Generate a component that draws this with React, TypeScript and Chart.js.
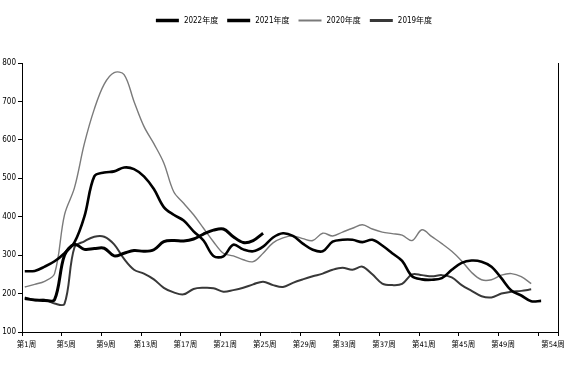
import { useEffect, useRef } from 'react';
import { Chart, registerables } from 'chart.js';

Chart.register(...registerables);

const seriesNames = ['2022年度', '2021年度', '2020年度', '2019年度'];

const values2022 = [187, 183, 182, 184, 300, 328, 315, 317, 318, 298, 305, 312, 310, 314, 335, 338, 337, 342, 355, 365, 368, 348, 333, 338, 357];
const values2021 = [258, 259, 270, 284, 305, 333, 400, 505, 515, 518, 528, 524, 505, 472, 425, 405, 390, 362, 338, 298, 297, 327, 315, 310, 322, 346, 357, 350, 330, 314, 310, 335, 340, 340, 334, 340, 325, 305, 285, 245, 237, 236, 240, 262, 280, 286, 283, 270, 240, 208, 195, 180, 181];
const values2020 = [217, 224, 232, 252, 405, 475, 590, 680, 745, 775, 770, 700, 635, 590, 540, 465, 435, 405, 370, 335, 305, 298, 288, 283, 305, 332, 345, 350, 343, 338, 357, 350, 360, 370, 379, 368, 360, 356, 352, 338, 366, 348, 330, 310, 285, 255, 236, 236, 248, 252, 244, 226];
const values2019 = [190, 183, 184, 174, 173, 320, 336, 348, 348, 328, 290, 262, 252, 237, 215, 203, 198, 212, 215, 214, 205, 209, 215, 224, 231, 222, 217, 228, 237, 245, 252, 262, 267, 262, 270, 250, 226, 222, 225, 250, 248, 245, 248, 242, 222, 207, 193, 190, 200, 205, 207, 211];

const xTickValues = [0.72, 4.72, 8.72, 12.72, 16.72, 20.72, 24.72, 28.72, 32.72, 36.72, 40.72, 44.72, 48.72, 52.72, 54.7];
const xTickLabels = ['第1周', '第5周', '第9周', '第13周', '第17周', '第21周', '第25周', '第29周', '第33周', '第37周', '第41周', '第45周', '第49周', '', '第54周'];

const yMin = 100;
const yMax = 800;
const yStep = 100;

const NARROW = '"Liberation Sans Narrow", "Arial Narrow", "DejaVu Sans Condensed", "Noto Sans CJK SC", sans-serif';

const lineStyles = [
  { color: '#000000', width: 3 },
  { color: '#000000', width: 2.6 },
  { color: '#7a7a7a', width: 1.4 },
  { color: '#383838', width: 2 },
];

const textPlugin = {
  id: 'customText',
  afterDraw(chart: any) {
    const ctx = chart.ctx as CanvasRenderingContext2D;
    const xs = chart.scales.x;
    ctx.save();
    ctx.fillStyle = '#000';
    ctx.textBaseline = 'middle';
    ctx.textAlign = 'center';
    ctx.font = `7.5px ${NARROW}`;
    const last = xTickValues.length - 1;
    xTickValues.forEach((v, i) => {
      const label = xTickLabels[i];
      if (!label) return;
      const px = xs.getPixelForValue(v) + (i === last ? -5 : 4.5);
      ctx.fillText(label, px, chart.chartArea.bottom + 13);
    });

    // legend
    ctx.font = `8px ${NARROW}`;
    ctx.textAlign = 'left';
    const lineLen = 23;
    const gap = 5;
    const spacing = 9;
    const widths = seriesNames.map((n) => ctx.measureText(n).width);
    const total = widths.reduce((a, w) => a + lineLen + gap + w, 0) + spacing * (seriesNames.length - 1);
    let x = 294 - total / 2;
    const y = 20.5;
    seriesNames.forEach((n, i) => {
      const st = lineStyles[i];
      ctx.strokeStyle = st.color;
      ctx.lineWidth = i < 2 ? 3.5 : i === 2 ? 2 : 3;
      ctx.beginPath();
      ctx.moveTo(x, y);
      ctx.lineTo(x + lineLen, y);
      ctx.stroke();
      ctx.fillText(n, x + lineLen + gap, y);
      x += lineLen + gap + widths[i] + spacing;
    });
    ctx.restore();
  },
};

export default function App() {
  const ref = useRef<HTMLCanvasElement>(null);
  useEffect(() => {
    const all = [values2022, values2021, values2020, values2019];
    const toPts = (arr: number[]) => arr.map((y, i) => ({ x: i + 1, y }));
    const chart = new Chart(ref.current as HTMLCanvasElement, {
      type: 'line',
      data: {
        datasets: all.map((arr, i) => ({
          label: seriesNames[i],
          data: toPts(arr),
          borderColor: lineStyles[i].color,
          backgroundColor: lineStyles[i].color,
          borderWidth: lineStyles[i].width,
          pointRadius: 0,
          tension: 0.35,
          fill: false,
        })),
      },
      options: {
        animation: false,
        responsive: false,
        devicePixelRatio: 1,
        layout: { padding: { top: 63, left: 0, right: 0, bottom: 0 } },
        plugins: { legend: { display: false }, tooltip: { enabled: false } },
        scales: {
          x: {
            type: 'linear',
            min: xTickValues[0],
            max: xTickValues[xTickValues.length - 1],
            afterBuildTicks: (s: any) => {
              s.ticks = xTickValues.map((v) => ({ value: v }));
            },
            afterFit: (s: any) => {
              s.height = 36;
            },
            ticks: { display: false },
            grid: { display: true, drawOnChartArea: false, drawTicks: true, tickLength: 4, color: '#000', lineWidth: 1 },
            border: { display: true, color: '#000', width: 1 },
          },
          y: {
            type: 'linear',
            position: 'left',
            min: yMin,
            max: yMax,
            ticks: { stepSize: yStep, color: '#000', padding: 2, font: { family: NARROW, size: 8 } },
            afterFit: (s: any) => {
              s.width = 22;
            },
            grid: { display: true, drawOnChartArea: false, drawTicks: true, tickLength: 4, color: '#000', lineWidth: 1 },
            border: { display: true, color: '#000', width: 1 },
          },
          y1: {
            type: 'linear',
            position: 'right',
            min: yMin,
            max: yMax,
            ticks: { display: false },
            afterFit: (s: any) => {
              s.width = 14;
            },
            grid: { display: false, drawTicks: false },
            border: { display: true, color: '#000', width: 1 },
          },
        },
      } as any,
      plugins: [textPlugin],
    });
    return () => chart.destroy();
  }, []);
  return (
    <div style={{ position: 'fixed', left: 0, top: 0, width: 572, height: 368, background: '#fff' }}>
      <canvas ref={ref} width={572} height={368} style={{ display: 'block', width: 572, height: 368 }} />
    </div>
  );
}
